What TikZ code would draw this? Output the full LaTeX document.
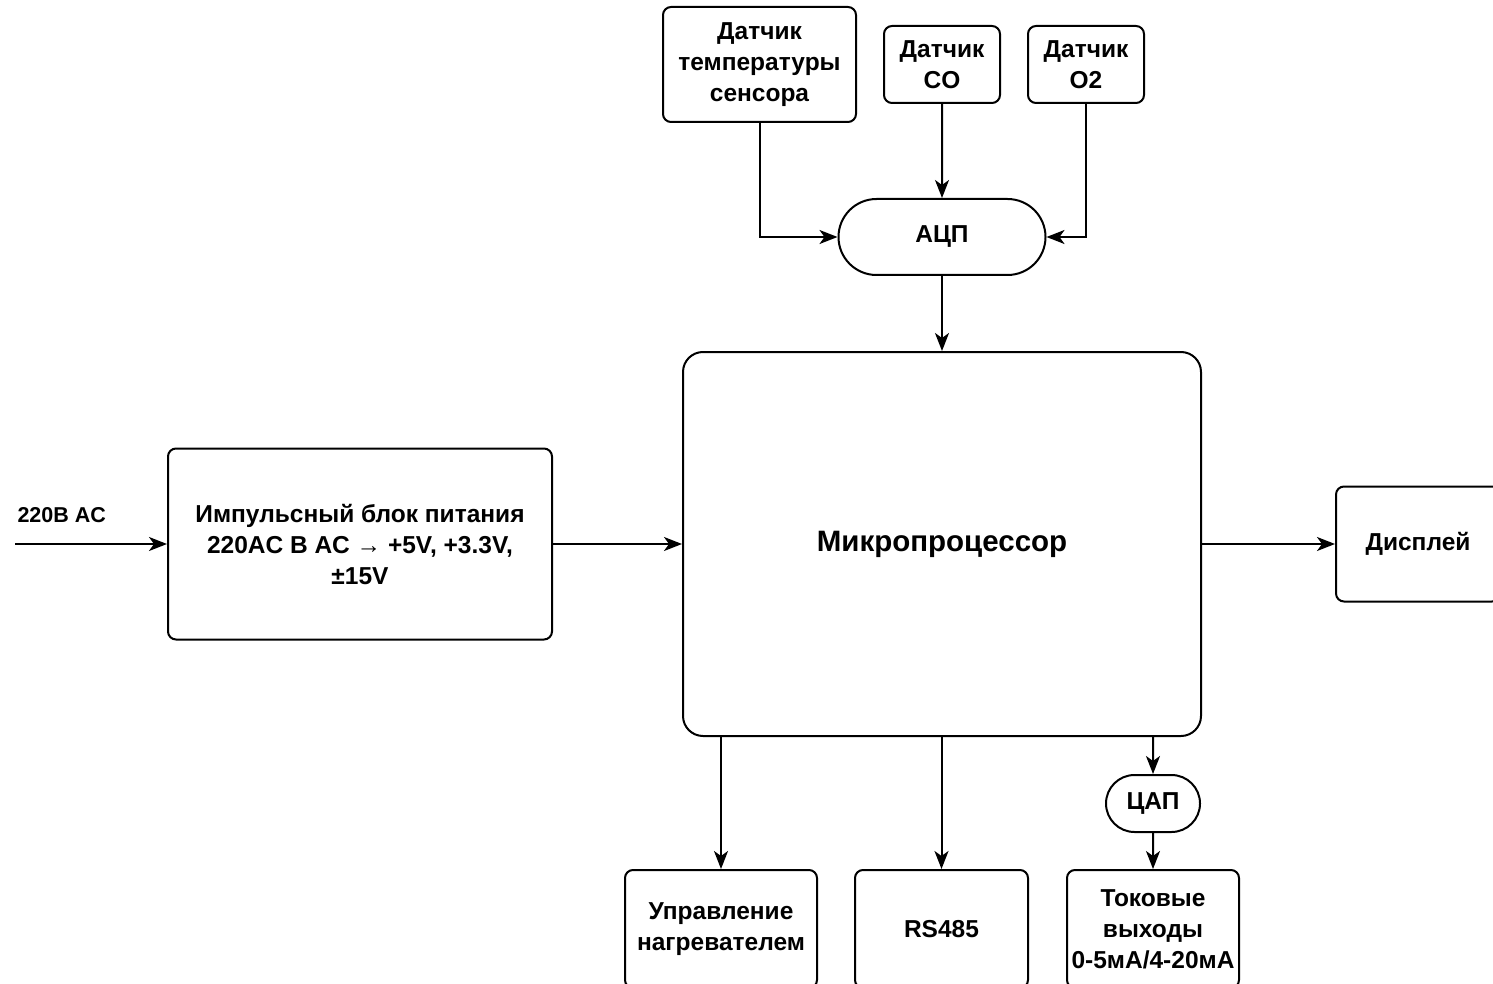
\documentclass[tikz,border=0pt]{standalone}
\usepackage{fontspec}
\setmainfont{Liberation Sans}
\usetikzlibrary{arrows.meta}
\usetikzlibrary{shapes.misc}
\tikzset{block/.style = {draw, line width=2pt, rounded corners=8pt, align=center, inner sep=0pt,
                         font=\bfseries\fontsize{24.5}{31}\selectfont},
         conv/.style  = {draw, line width=2pt, rounded rectangle, align=center, inner sep=0pt,
                         font=\bfseries\fontsize{24.5}{31}\selectfont},
         link/.style  = {line width=2pt, -{Stealth[length=18pt,width=14pt,inset=5pt]}}}

\begin{document}
\begin{tikzpicture}[x=1pt, y=-1pt]
    \clip (0, 0) rectangle (1493, 984);

    % sensors and ADC
    \node [block, minimum width=193, minimum height=115] (tsens) at (759.5, 64.5) {Датчик\\температуры\\сенсора};
    \node [block, minimum width=116, minimum height=77] (cosens) at (942, 64.5) {Датчик\\CO};
    \node [block, minimum width=116, minimum height=77] (osens) at (1086, 64.5) {Датчик\\O2};
    \node [conv, minimum width=207, minimum height=76] (adc) at (942, 237) {АЦП};

    % main blocks
    \node [block, rounded corners=20pt, minimum width=518, minimum height=384,
           font=\bfseries\fontsize{29.5}{35}\selectfont] (mcu) at (942, 544) {Микропроцессор};
    \node [block, minimum width=384, minimum height=191] (psu) at (360, 544)
          {Импульсный блок питания\\220AC В AC \textrightarrow{} +5V, +3.3V,\\±15V};
    \node [block, minimum width=164, minimum height=115] (disp) at (1418, 544) {Дисплей};
    \coordinate (mains) at (15, 544);
    \node [anchor=west, font=\bfseries\fontsize{21.5}{26}\selectfont] (mainslbl) at (14, 515) {220В AC};

    % outputs
    \node [block, minimum width=192, minimum height=118] (heat) at (721, 929) {Управление\\нагревателем};
    \node [block, minimum width=173, minimum height=118] (rs) at (941.5, 929) {RS485};
    \node [block, minimum width=172, minimum height=118] (cur) at (1153, 929) {Токовые\\выходы\\0-5мА/4-20мА};
    \node [conv, minimum width=94, minimum height=57] (dac) at (1153, 803.5) {ЦАП};

    \draw [link] (tsens.south) |- (adc.west);
    \draw [link] (cosens) -- (adc);
    \draw [link] (osens.south) |- (adc.east);
    \draw [link] (adc) -- (mcu);
    \draw [link] (mains) -- (psu);
    \draw [link] (psu) -- (mcu);
    \draw [link] (mcu) -- (disp);
    \draw [link] (mcu.south -| heat.north) -- (heat);
    \draw [link] (mcu.south -| rs.north) -- (rs);
    \draw [link] (mcu.south -| dac.north) -- (dac);
    \draw [link] (dac) -- (cur);
\end{tikzpicture}
\end{document}
